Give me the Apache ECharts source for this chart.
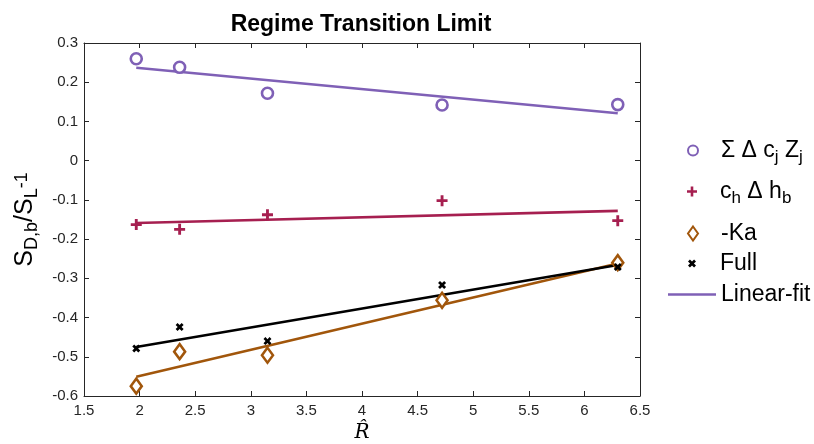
<!DOCTYPE html>
<html>
<head>
<meta charset="utf-8">
<script src="https://cdn.jsdelivr.net/npm/echarts@6/dist/echarts.min.js"></script>
<style>
  html, body { margin: 0; padding: 0; background: #fff; }
  #chart { width: 814px; height: 444px; }
</style>
</head>
<body>
<div id="chart"></div>
<script>
  // R-hat positions
  const rHat = [1.97, 2.36, 3.15, 4.72, 6.30]
  // measured points
  const sumDcZ = [0.260, 0.238, 0.172, 0.142, 0.143]
  const chDhb = [-0.163, -0.175, -0.138, -0.102, -0.153]
  const negKa = [-0.575, -0.487, -0.496, -0.356, -0.260]
  const full = [-0.479, -0.424, -0.460, -0.317, -0.271]
  // linear fits, end points at first and last R-hat
  const fitX = [1.97, 6.30]
  const fitSum = [0.237, 0.121]
  const fitCh = [-0.159, -0.128]
  const fitKa = [-0.551, -0.262]
  const fitFull = [-0.475, -0.266]

  const purple = '#7f60b6'
  const crimson = '#a61f50'
  const brown = '#a1560b'
  const font = 'Liberation Sans, Arial, sans-serif'

  const plusPath = 'path://M-1.3,-5 L1.3,-5 L1.3,-1.3 L5,-1.3 L5,1.3 L1.3,1.3 L1.3,5 L-1.3,5 L-1.3,1.3 L-5,1.3 L-5,-1.3 L-1.3,-1.3 Z'
  const crossPath = 'path://M-2.6,-5 L0,-2.4 L2.6,-5 L5,-2.6 L2.4,0 L5,2.6 L2.6,5 L0,2.4 L-2.6,5 L-5,2.6 L-2.4,0 L-5,-2.6 Z'

  function pairs (xs, ys) {
    return xs.map((x, i) => [x, ys[i]])
  }

  function scatter (name, ys, symbol, size, color, hollow) {
    return {
      name: name,
      type: 'scatter',
      data: pairs(rHat, ys),
      symbol: symbol,
      symbolSize: size,
      symbolKeepAspect: true,
      z: 3,
      itemStyle: hollow
        ? { color: '#fff', borderColor: color, borderWidth: 2.6, opacity: 1 }
        : { color: color, opacity: 1 }
    }
  }

  function fit (name, ys, color) {
    return {
      name: name,
      type: 'line',
      data: pairs(fitX, ys),
      symbol: 'none',
      z: 2,
      lineStyle: { color: color, width: 2.6 },
      itemStyle: { color: color }
    }
  }

  const rich = {
    n: { fontSize: 23, fontFamily: font, color: '#000', lineHeight: 26 },
    s: { fontSize: 17, fontFamily: font, color: '#000', lineHeight: 26, padding: [14, 0, 0, 0] }
  }

  // one legend per entry so each row sits where the reference has it
  function legendItem (name, centerY, w, h, sub) {
    const gap = w > 30 ? 0 : Math.round(23 - w / 2)
    const boxH = sub ? 30 : 22
    const lead = gap > 0 ? '{g|}' : ''
    const item = {
      data: [name],
      left: w > 30 ? 668 : 692 - w / 2,
      top: centerY - boxH / 2,
      padding: 0,
      itemWidth: w,
      itemHeight: h,
      selectedMode: false,
      formatter: function (n) {
        if (n === 'sum') return lead + '{n|Σ Δ c}{s|j}{n| Z}{s|j}'
        if (n === 'ch') return lead + '{n|c}{s|h}{n| Δ h}{s|b}'
        return lead + '{n|' + n + '}'
      },
      textStyle: { rich: Object.assign({}, rich, { g: { width: gap } }) }
    }
    if (w > 30) item.icon = 'rect'
    return item
  }

  const chart = echarts.init(document.getElementById('chart'))
  chart.setOption({
    animation: false,
    title: {
      text: 'Regime Transition Limit',
      left: 361,
      textAlign: 'center',
      top: 13,
      padding: 0,
      textStyle: { fontFamily: font, fontSize: 23, fontWeight: 'bold', color: '#000' }
    },
    grid: { left: 84, right: 174, top: 43, bottom: 48, outerBoundsMode: 'none' },
    legend: [
      legendItem('sum', 150, 10, 10, true),
      legendItem('ch', 191, 10, 10, true),
      legendItem('-Ka', 233, 10, 14, false),
      legendItem('Full', 263, 8, 8, false),
      legendItem('Linear-fit', 294, 48, 2.6, false)
    ],
    xAxis: [{
      type: 'value',
      min: 1.5,
      max: 6.5,
      interval: 0.5,
      name: 'R\u0302',
      nameLocation: 'middle',
      nameGap: 26,
      nameTextStyle: { fontFamily: 'DejaVu Serif', fontStyle: 'italic', fontSize: 20, color: '#000' },
      axisLine: { onZero: false, lineStyle: { color: '#262626', width: 1 } },
      axisTick: { inside: true, length: 5, lineStyle: { color: '#262626' } },
      axisLabel: { color: '#262626', fontSize: 15, fontFamily: font, margin: 7 },
      splitLine: { show: false }
    }, {
      type: 'value',
      position: 'top',
      min: 1.5,
      max: 6.5,
      interval: 0.5,
      axisLine: { show: true, onZero: false, lineStyle: { color: '#262626', width: 1 } },
      axisTick: { inside: true, length: 5, lineStyle: { color: '#262626' } },
      axisLabel: { show: false },
      splitLine: { show: false }
    }],
    yAxis: [{
      type: 'value',
      min: -0.6,
      max: 0.3,
      interval: 0.1,
      name: '{n|S}{s|D,b}{n|/S}{s|L}{p|-1}',
      nameLocation: 'middle',
      nameGap: 42,
      nameTextStyle: {
        rich: {
          n: { fontSize: 25, fontFamily: font, color: '#000', lineHeight: 28 },
          s: { fontSize: 18, fontFamily: font, color: '#000', lineHeight: 28, padding: [14, 0, 0, 0] },
          p: { fontSize: 18, fontFamily: font, color: '#000', lineHeight: 28, padding: [0, 0, 6, 0] }
        }
      },
      axisLine: { onZero: false, lineStyle: { color: '#262626', width: 1 } },
      axisTick: { inside: true, length: 5, lineStyle: { color: '#262626' } },
      axisLabel: {
        color: '#262626',
        fontSize: 15,
        fontFamily: font,
        margin: 6,
        formatter: v => String(Math.round(v * 10) / 10)
      },
      splitLine: { show: false }
    }, {
      type: 'value',
      position: 'right',
      min: -0.6,
      max: 0.3,
      interval: 0.1,
      axisLine: { show: true, onZero: false, lineStyle: { color: '#262626', width: 1 } },
      axisTick: { inside: true, length: 5, lineStyle: { color: '#262626' } },
      axisLabel: { show: false },
      splitLine: { show: false }
    }],
    series: [
      scatter('sum', sumDcZ, 'circle', 11, purple, true),
      scatter('ch', chDhb, plusPath, 11, crimson, false),
      scatter('-Ka', negKa, 'diamond', [11, 15], brown, true),
      scatter('Full', full, crossPath, 8, '#000', false),
      fit('Linear-fit', fitSum, purple),
      fit('fitCh', fitCh, crimson),
      fit('fitKa', fitKa, brown),
      fit('fitFull', fitFull, '#000')
    ]
  })
</script>
</body>
</html>
